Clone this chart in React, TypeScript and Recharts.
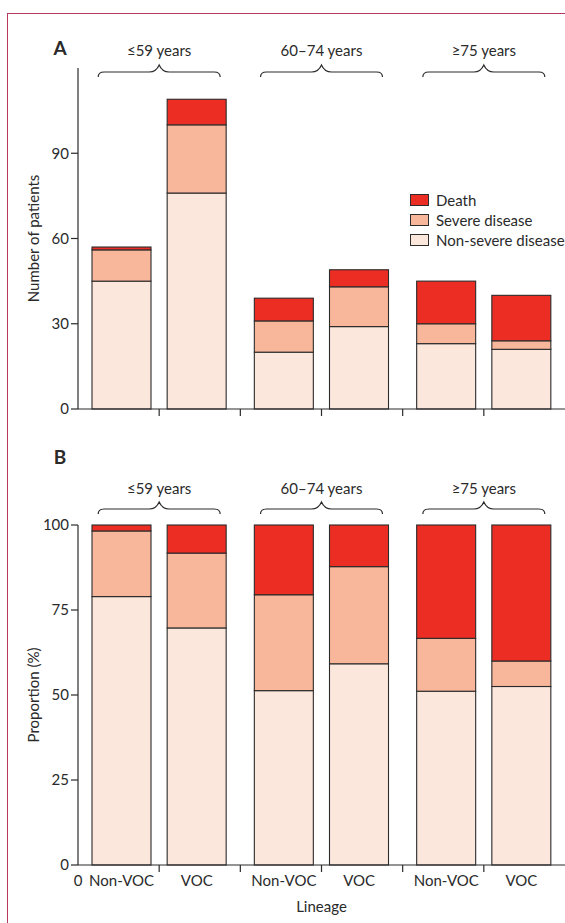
import React from 'react';
import { BarChart, Bar, XAxis, YAxis, Legend } from 'recharts';

const lineage = ['Non-VOC', 'VOC', 'Non-VOC', 'VOC', 'Non-VOC', 'VOC'];
const ageGroups = ['≤59 years', '60–74 years', '≥75 years'];
const nonSevere = [45, 76, 20, 29, 23, 21];
const severe = [11, 24, 11, 14, 7, 3];
const death = [1, 9, 8, 6, 15, 16];
const countTicks = [0, 30, 60, 90];
const shareTicks = [0, 0.25, 0.5, 0.75, 1];

const FONT = 'Lato, "Open Sans", sans-serif';
const INK = '#2a2a2a';
const FS = 15;
const W = 565;
const AXIS_X = 78;
const BAND = (W - AXIS_X) / lineage.length;
const PAIR_SHIFT = 3;

const SERIES = [
  { key: 'nonSevere', name: 'Non-severe disease', color: '#fce7dd' },
  { key: 'severe', name: 'Severe disease', color: '#f8b79b' },
  { key: 'death', name: 'Death', color: '#ec2d24' },
];

const rows = lineage.map((l, i) => ({
  id: `${ageGroups[Math.floor(i / 2)]} ${l}`,
  lineage: l,
  nonSevere: nonSevere[i],
  severe: severe[i],
  death: death[i],
}));

const pairShift = (i: number) => (i % 2 === 0 ? PAIR_SHIFT : -PAIR_SHIFT);

// pairs sit a little closer to each other inside their age group
function PairedBar(props: any) {
  const { x, y, width, height, fill, index } = props;
  if (!height || height <= 0) return null;
  return (
    <rect x={x + pairShift(index)} y={y} width={width} height={height} fill={fill} stroke="#2b2b2b" strokeWidth={1.1} />
  );
}

function BoundaryTick(props: any) {
  const { x, y, index, showLabels } = props;
  const edge = x + BAND / 2;
  return (
    <g>
      {index < lineage.length - 1 && (
        <line x1={edge} y1={y} x2={edge} y2={y + 7} stroke={INK} strokeWidth={1.2} />
      )}
      {showLabels && (
        <text x={x + pairShift(index)} y={y + 15} textAnchor="middle" dominantBaseline="central" fill={INK} fontSize={FS} fontFamily={FONT}>
          {lineage[index]}
        </text>
      )}
      {showLabels && index === 0 && (
        <text x={x - BAND / 2} y={y + 15} textAnchor="middle" dominantBaseline="central" fill={INK} fontSize={FS} fontFamily={FONT}>
          0
        </text>
      )}
    </g>
  );
}

function yLabel(text: string) {
  return ({ viewBox }: any) => {
    const cx = 33;
    const cy = viewBox.y + viewBox.height / 2;
    return (
      <text x={cx} y={cy} transform={`rotate(-90, ${cx}, ${cy})`} textAnchor="middle" dominantBaseline="central" fill={INK} fontSize={FS} fontFamily={FONT}>
        {text}
      </text>
    );
  };
}

function LegendBox() {
  const items = [...SERIES].reverse();
  return (
    <div style={{ fontFamily: FONT, fontSize: FS, color: INK }}>
      {items.map((s) => (
        <div key={s.key} style={{ display: 'flex', alignItems: 'center', height: 20 }}>
          <span style={{ width: 17, height: 10, background: s.color, border: '1px solid #2b2b2b', marginRight: 7 }} />
          <span>{s.name}</span>
        </div>
      ))}
    </div>
  );
}

function Brace({ cx, y }: { cx: number; y: number }) {
  const h = 61;
  const d = `M ${cx - h} ${y + 12} Q ${cx - h} ${y + 7} ${cx - h + 6} ${y + 7} L ${cx - 10} ${y + 7} Q ${cx - 3} ${y + 7} ${cx} ${y} Q ${cx + 3} ${y + 7} ${cx + 10} ${y + 7} L ${cx + h - 6} ${y + 7} Q ${cx + h} ${y + 7} ${cx + h} ${y + 12}`;
  return <path d={d} fill="none" stroke={INK} strokeWidth={1.2} />;
}

function Annotations({ labelY, braceY, letter, letterY }: { labelY: number; braceY: number; letter: string; letterY: number }) {
  return (
    <g fontFamily={FONT} fill={INK}>
      <text x={60} y={letterY} textAnchor="middle" dominantBaseline="central" fontSize={19} fontWeight={700}>
        {letter}
      </text>
      {ageGroups.map((g, i) => {
        const cx = AXIS_X + BAND * (2 * i + 1);
        return (
          <g key={g}>
            <text x={cx} y={labelY} textAnchor="middle" dominantBaseline="central" fontSize={FS}>
              {g}
            </text>
            <Brace cx={cx} y={braceY} />
          </g>
        );
      })}
    </g>
  );
}

function StackedPanel({ height, top, marginTop, marginBottom, xHeight, expand, showLabels, label, ticks, legend }: any) {
  return (
    <div style={{ position: 'absolute', left: 0, top }}>
      <BarChart
        width={W}
        height={height}
        data={rows}
        margin={{ top: marginTop, right: 0, bottom: marginBottom, left: 0 }}
        stackOffset={expand ? 'expand' : 'none'}
      >
        <XAxis
          dataKey="id"
          height={xHeight}
          axisLine={{ stroke: INK, strokeWidth: 1.2 }}
          tickLine={false}
          tickSize={0}
          tickMargin={0}
          interval={0}
          tick={(p: any) => <BoundaryTick {...p} showLabels={showLabels} />}
        />
        <YAxis
          width={AXIS_X}
          domain={expand ? [0, 1] : [0, 120]}
          ticks={ticks}
          tickFormatter={(v: number) => (expand ? String(Math.round(v * 100)) : String(v))}
          axisLine={{ stroke: INK, strokeWidth: 1.2 }}
          tickLine={{ stroke: INK, strokeWidth: 1.2 }}
          tickSize={7}
          tickMargin={2}
          tick={{ fill: INK, fontSize: FS, fontFamily: FONT }}
          label={yLabel(label)}
        />
        {legend && (
          <Legend
            layout="horizontal"
            verticalAlign="middle"
            align="center"
            content={<LegendBox />}
            wrapperStyle={{ left: 410, top: 190, width: 160 }}
          />
        )}
        {SERIES.map((s) => (
          <Bar
            key={s.key}
            dataKey={s.key}
            name={s.name}
            stackId="a"
            fill={s.color}
            barSize={59}
            shape={<PairedBar />}
            isAnimationActive={false}
          />
        ))}
      </BarChart>
    </div>
  );
}

export default function App() {
  return (
    <div style={{ position: 'absolute', left: 0, top: 0, width: W, height: 923, background: '#fff', overflow: 'hidden' }}>
      <div style={{ position: 'absolute', left: 7, top: 13, right: -2, bottom: -2, borderTop: '1px solid #b6385c', borderLeft: '1px solid #b6385c' }} />
      <StackedPanel
        top={0}
        height={430}
        marginTop={68}
        marginBottom={0}
        xHeight={21}
        expand={false}
        showLabels={false}
        label="Number of patients"
        ticks={countTicks}
        legend
      />
      <StackedPanel
        top={430}
        height={493}
        marginTop={95}
        marginBottom={28}
        xHeight={30}
        expand
        showLabels
        label="Proportion (%)"
        ticks={shareTicks}
        legend={false}
      />
      <svg width={W} height={923} style={{ position: 'absolute', left: 0, top: 0, pointerEvents: 'none' }}>
        <Annotations letter="A" letterY={47} labelY={50} braceY={65} />
        <Annotations letter="B" letterY={456} labelY={488} braceY={502} />
        <text x={AXIS_X + BAND * 3} y={906} textAnchor="middle" dominantBaseline="central" fill={INK} fontSize={FS} fontFamily={FONT}>
          Lineage
        </text>
      </svg>
    </div>
  );
}
